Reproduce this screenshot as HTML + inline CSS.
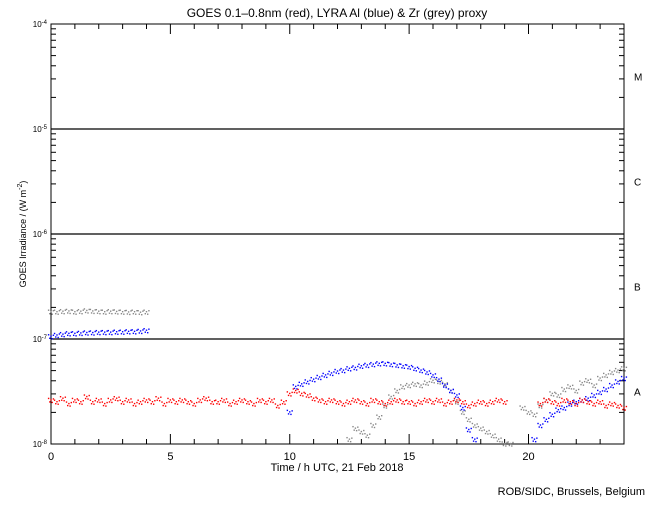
<!DOCTYPE html>
<html><head><meta charset="utf-8"><style>
body{margin:0;background:#fff;}
svg text{font-family:"Liberation Sans",sans-serif;fill:#000;}
</style></head><body>
<svg id="chart" width="650" height="500" xmlns="http://www.w3.org/2000/svg">
<rect width="650" height="500" fill="#fff"/>
<text x="337" y="17" font-size="12" text-anchor="middle">GOES 0.1–0.8nm (red), LYRA Al (blue) &amp; Zr (grey) proxy</text>
<text x="337" y="471" font-size="11" text-anchor="middle">Time / h UTC, 21 Feb 2018</text>
<text transform="translate(26,234) rotate(-90)" font-size="9" text-anchor="middle">GOES Irradiance / (W m<tspan dy="-4" font-size="7">-2</tspan><tspan dy="4">)</tspan></text>
<text x="645" y="495" font-size="11" text-anchor="end">ROB/SIDC, Brussels, Belgium</text>
<g id="axes"></g>
<g id="marks"></g>
</svg>
<script>
const xTicks=[0,5,10,15,20];
const yDecades=[-8,-7,-6,-5,-4];
const classLabels=["A","B","C","M"];
const unit=1e-8;
const step=0.25;
// red GOES, every 0.25h from 0 to 24 (units of 1e-8)
const red=[2.6,2.5,2.7,2.4,2.6,2.5,2.8,2.5,2.6,2.4,2.6,2.7,2.5,2.6,2.4,2.5,2.6,
2.5,2.7,2.4,2.6,2.5,2.6,2.5,2.4,2.6,2.7,2.5,2.5,2.6,2.4,2.5,2.6,2.5,2.4,2.6,2.5,2.6,2.3,2.5,
3.0,3.2,3.0,2.9,2.7,2.6,2.5,2.6,2.5,2.4,2.5,2.6,2.5,2.4,2.6,2.5,2.4,2.5,2.6,2.5,
2.5,2.4,2.5,2.6,2.5,2.6,2.4,2.5,2.6,2.5,2.3,2.4,2.5,2.4,2.5,2.6,2.5,null,null,null,null,null,
2.4,2.6,2.5,2.4,2.6,2.5,2.4,2.6,2.5,2.4,2.5,2.3,2.4,2.3,2.2];
const blue=[10.5,10.8,11.0,11.2,11.2,11.3,11.4,11.4,11.5,11.5,11.5,11.6,11.6,11.7,11.7,11.8,12.0,
null,null,null,null,null,null,null,null,null,null,null,null,null,null,null,null,null,null,null,null,null,null,0.9,
2.0,3.5,3.7,3.9,4.1,4.3,4.5,4.7,4.9,5.0,5.2,5.3,5.5,5.6,5.7,5.8,5.8,5.7,5.6,5.5,
5.4,5.2,5.0,4.8,4.5,4.1,3.6,3.2,2.9,2.2,1.36,1.1,0.9,0.8,0.8,0.8,0.8,0.8,0.8,0.8,
0.9,1.1,1.5,1.7,1.9,2.1,2.2,2.4,2.5,2.6,2.7,2.9,3.1,3.3,3.6,3.9,4.2];
const grey=[18.0,18.0,18.2,18.3,18.0,18.2,18.5,18.3,18.2,18.0,18.2,18.1,18.0,17.9,18.0,17.8,18.0,
null,null,null,null,null,null,null,null,null,null,null,null,null,null,null,null,null,null,null,null,null,null,null,
null,null,null,null,null,null,null,null,null,null,1.1,1.4,1.3,1.2,1.5,1.8,2.3,2.8,3.2,3.5,
3.6,3.7,3.6,3.8,4.0,3.9,3.7,3.2,2.5,2.0,1.7,1.5,1.4,1.3,1.2,1.1,1.0,1.0,0.95,2.2,
2.0,1.9,2.3,2.6,3.0,2.9,3.3,3.5,3.2,3.8,4.0,3.6,4.2,4.5,4.8,5.0,5.2];
const X0=51,X1=624,Y0=24,Y1=444;
function xs(h){return X0+(X1-X0)*h/24;}
function ys(v){return Y1-(Y1-Y0)*(Math.log10(v)+8)/4;}
const NS="http://www.w3.org/2000/svg";
function mk(t,a,p){const e=document.createElementNS(NS,t);for(const k in a)e.setAttribute(k,a[k]);p.appendChild(e);return e;}
const ax=document.getElementById('axes');
const frame=mk('rect',{x:X0,y:Y0,width:X1-X0,height:Y1-Y0,fill:'none',stroke:'#000','stroke-width':1},ax);


for(let h=0;h<=24;h++){
  const L=h%5===0?10:5,x=xs(h);
  const t1=mk('line',{x1:x,x2:x,y1:Y1,y2:Y1-L,stroke:'#000'},ax);
  
  
  mk('line',{x1:x,x2:x,y1:Y0,y2:Y0+L,stroke:'#000'},ax);
}
xTicks.forEach(h=>{
  const t=mk('text',{x:xs(h),y:Y1+16,'font-size':11,'text-anchor':'middle'},ax);
  t.textContent=h;
  
  
});
yDecades.forEach((d,i)=>{
  const y=ys(Math.pow(10,d)*1.0000001);
  if(i>0&&i<4){
    const g=mk('line',{x1:X0,x2:X1,y1:y,y2:y,stroke:'#000','stroke-width':1.3},ax);
    
    
  }
  const t=mk('text',{x:X0-4,y:y+3,'font-size':8,'text-anchor':'end'},ax);
  t.innerHTML='10<tspan dy="-3" font-size="6">'+d+'</tspan>';
  
  
  if(i<4){
    for(let m=2;m<=9;m++){
      const yy=ys(m*Math.pow(10,d));
      mk('line',{x1:X0,x2:X0+5,y1:yy,y2:yy,stroke:'#000'},ax);
      mk('line',{x1:X1,x2:X1-5,y1:yy,y2:yy,stroke:'#000'},ax);
    }
    const c=mk('text',{x:634,y:ys(3.16*Math.pow(10,d))+4,'font-size':10},ax);
    c.textContent=classLabels[i];
    
    
  }
});
const mg=document.getElementById('marks');
const dotPattern=[[-2.4,-2],[-1.2,1.5],[0,-0.5],[1.2,2],[2.4,-1.5]];
function series(arr,col,name){
  const g=mk('g',{fill:col},mg);
  
  
  arr.forEach((v,i)=>{
    if(v===null)return;
    const y=ys(v*unit);if(y>Y1||y<Y0)return;
    const x=xs(i*step);
    dotPattern.forEach(o=>{
      const p=mk('rect',{x:x+o[0]-0.7,y:y+o[1]-0.7,width:1.4,height:1.4},g);
      
      
    });
  });
}
series(grey,'#888','grey-series');
series(blue,'#0000ff','blue-series');
series(red,'#ff0000','red-series');
</script>
</body></html>
